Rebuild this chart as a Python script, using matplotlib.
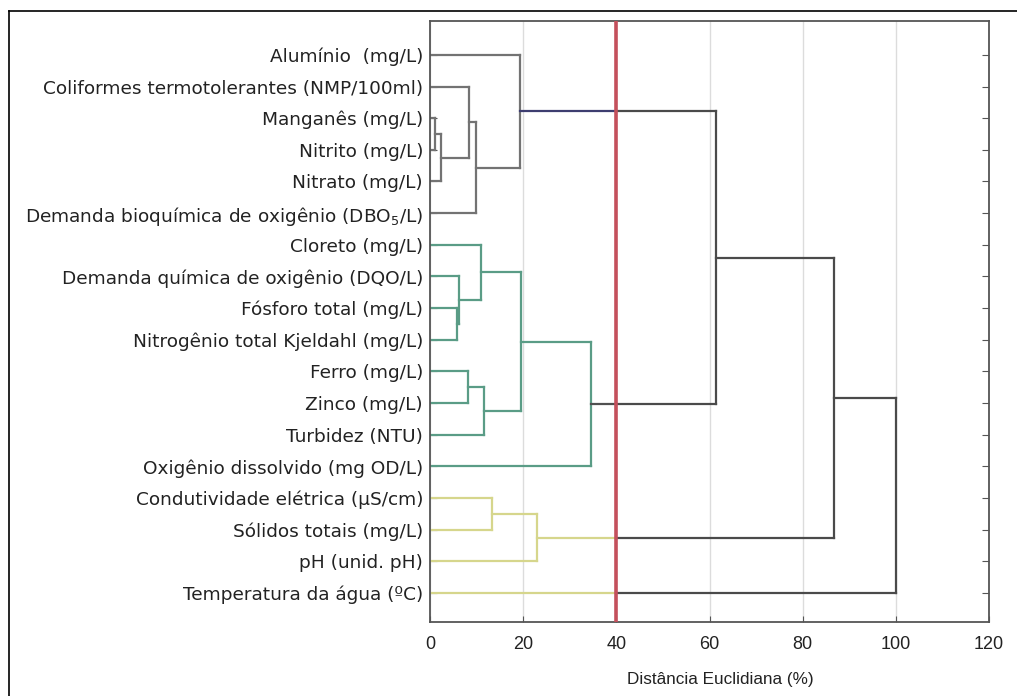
import matplotlib
matplotlib.use("Agg")
import matplotlib.pyplot as plt
from matplotlib.lines import Line2D

plt.rcParams['font.family'] = ['Liberation Sans', 'DejaVu Sans']
plt.rcParams['mathtext.fontset'] = 'dejavusans'

# leaves, top to bottom
leaves = [
    "Alumínio  (mg/L)",
    "Coliformes termotolerantes (NMP/100ml)",
    "Manganês (mg/L)",
    "Nitrito (mg/L)",
    "Nitrato (mg/L)",
    "Demanda bioquímica de oxigênio (DBO$_5$/L)",
    "Cloreto (mg/L)",
    "Demanda química de oxigênio (DQO/L)",
    "Fósforo total (mg/L)",
    "Nitrogênio total Kjeldahl (mg/L)",
    "Ferro (mg/L)",
    "Zinco (mg/L)",
    "Turbidez (NTU)",
    "Oxigênio dissolvido (mg OD/L)",
    "Condutividade elétrica (µS/cm)",
    "Sólidos totais (mg/L)",
    "pH (unid. pH)",
    "Temperatura da água (ºC)",
]

# merges: (child a, child b, distance %); new node ids start at len(leaves)
merge_a = [2, 18, 1, 20, 0, 8, 7, 6, 10, 26, 25, 28, 22, 14, 31, 30, 33]
merge_b = [3, 4, 19, 5, 21, 9, 23, 24, 11, 12, 27, 13, 29, 15, 16, 32, 17]
merge_h = [1.0, 2.3, 8.4, 9.8, 19.4, 5.7, 6.2, 11.0, 8.1, 11.6, 19.6, 34.5,
           61.5, 13.4, 23.0, 86.8, 100.0]

# cluster of each leaf (cut at 40 %)
leaf_cluster = [0] * 6 + [1] * 8 + [2] * 3 + [3]
cluster_colors = ["#737373", "#5a9c86", "#d6d68c", "#d6d68c"]
stem_colors = ["#3d3d70", "#505050", "#d6d68c", "#d6d68c"]
cut = 40
above_color = "#4a4a4a"

n = len(leaves)
ypos = {i: float(i) for i in range(n)}
hgt = {i: 0.0 for i in range(n)}
clus = {i: leaf_cluster[i] for i in range(n)}

fig = plt.figure(figsize=(10.17, 6.96), dpi=100)
ax = fig.add_axes([0.4228, 0.1063, 0.5497, 0.8635])

lw = 1.6
for k, (a, b, h) in enumerate(zip(merge_a, merge_b, merge_h)):
    node = n + k
    for c in (a, b):
        h0 = hgt[c]
        if h <= cut:
            ax.plot([h0, h], [ypos[c], ypos[c]], color=cluster_colors[clus[c]], lw=lw)
        else:
            if h0 < cut:
                col = cluster_colors[clus[c]] if h0 == 0 else stem_colors[clus[c]]
                ax.plot([h0, cut], [ypos[c], ypos[c]], color=col, lw=lw)
                ax.plot([cut, h], [ypos[c], ypos[c]], color=above_color, lw=lw)
            else:
                ax.plot([h0, h], [ypos[c], ypos[c]], color=above_color, lw=lw)
    vcol = cluster_colors[clus[a]] if h <= cut else above_color
    ax.plot([h, h], [ypos[a], ypos[b]], color=vcol, lw=lw)
    ypos[node] = (ypos[a] + ypos[b]) / 2
    hgt[node] = h
    clus[node] = clus[a]

ax.axvline(cut, color="#c4505c", lw=2.6, zorder=3)

ax.set_xlim(0, 120)
ax.set_ylim(17.92, -1.07)
ax.set_xticks(range(0, 121, 20))
ax.set_yticks(range(n))
ax.set_yticklabels(leaves, fontsize=13.3, color="#222222", family=['DejaVu Sans'])
ax.tick_params(axis='y', direction='in', length=5, right=True, color="#555555", pad=5)
ax.tick_params(axis='x', direction='in', length=4, labelsize=13, labelcolor="#222222",
               color="#555555", pad=10)
ax.grid(axis='x', color="#dcdcdc", lw=1)
ax.set_axisbelow(True)
for s in ax.spines.values():
    s.set_color("#555555")
    s.set_linewidth(1.3)

ax.set_xlabel("Distância Euclidiana (%)", fontsize=12.3, color="#222222")
ax.xaxis.set_label_coords(0.519, -0.084)

# outer frame (left and top only)
fig.add_artist(Line2D([9 / 1017, 9 / 1017], [0, 1 - 11 / 696], color="black", lw=1.2))
fig.add_artist(Line2D([9 / 1017, 1], [1 - 11 / 696, 1 - 11 / 696], color="black", lw=1.2))

fig.savefig("out.png", dpi=100)
